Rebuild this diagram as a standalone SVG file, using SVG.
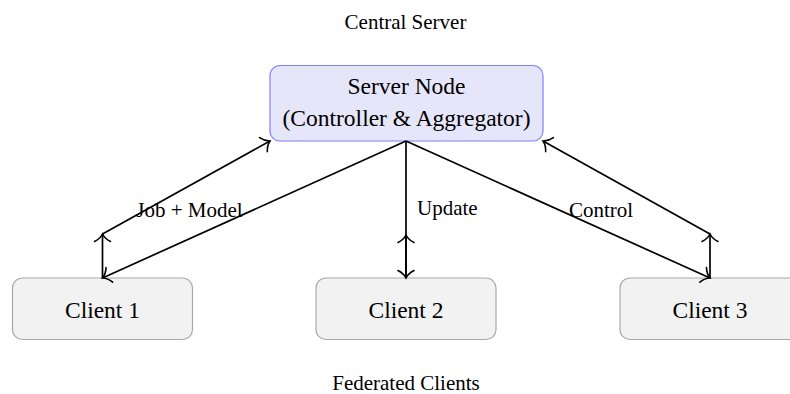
<svg xmlns="http://www.w3.org/2000/svg" width="790" height="394" viewBox="0 0 790 394">
  <style>
    .title { font-family: "Liberation Serif", "Times New Roman", serif; font-size: 21px; fill: #000; text-anchor: middle; }
    .label { font-family: "Liberation Serif", "Times New Roman", serif; font-size: 21px; fill: #000; }
    .node-text { font-family: "Liberation Serif", "Times New Roman", serif; font-size: 23.5px; fill: #000; text-anchor: middle; }
    .server { fill: #e6e6fa; stroke: #8080ff; stroke-width: 1.2; }
    .client { fill: #f2f2f2; stroke: #aaaaaa; stroke-width: 1.2; }
    .edge { fill: none; stroke: #000; stroke-width: 1.7; marker-end: url(#tip); }
  </style>
  <defs>
    <marker id="tip" viewBox="-10 -10 14 20" markerWidth="14" markerHeight="20" refX="0" refY="0" orient="auto" markerUnits="userSpaceOnUse">
      <path d="M -7.5 -8 C -5.5 -4, -2.2 -1.1, 0 0 C -2.2 1.1, -5.5 4, -7.5 8" fill="none" stroke="#000" stroke-width="1.6" stroke-linecap="round"/>
    </marker>
  </defs>

  <text class="title" x="405.5" y="28.5">Central Server</text>
  <text class="title" x="406" y="390">Federated Clients</text>

  <g id="server">
    <rect class="server" x="270" y="65.5" width="273" height="75.5" rx="10"/>
    <text class="node-text" x="406.5" y="93.5">Server Node</text>
    <text class="node-text" x="406.5" y="126">(Controller &amp; Aggregator)</text>
  </g>

  <g id="client1">
    <rect class="client" x="12.5" y="278" width="180" height="61.5" rx="10"/>
    <text class="node-text" x="102.5" y="318">Client 1</text>
  </g>
  <g id="client2">
    <rect class="client" x="316" y="278" width="180" height="61.5" rx="10"/>
    <text class="node-text" x="406" y="318">Client 2</text>
  </g>
  <g id="client3">
    <rect class="client" x="620" y="278" width="180" height="61.5" rx="10"/>
    <text class="node-text" x="710" y="318">Client 3</text>
  </g>

  <g id="connectors">
    <!-- downlink: server to each client -->
    <line class="edge" x1="406" y1="141" x2="102.5" y2="278"/>
    <line class="edge" x1="406" y1="141" x2="406" y2="278"/>
    <line class="edge" x1="406" y1="141" x2="710" y2="278"/>
    <!-- uplink: client up, then back to server -->
    <line class="edge" x1="102.5" y1="278" x2="102.5" y2="234"/>
    <line class="edge" x1="102.5" y1="234" x2="270" y2="141"/>
    <line class="edge" x1="406" y1="278" x2="406" y2="235"/>
    <line class="edge" x1="710" y1="278" x2="710" y2="234"/>
    <line class="edge" x1="710" y1="234" x2="543" y2="141"/>
    <text class="label" x="189.5" y="216.5" text-anchor="middle">Job + Model</text>
    <text class="label" x="417" y="215">Update</text>
    <text class="label" x="601" y="217" text-anchor="middle">Control</text>
  </g>
</svg>
